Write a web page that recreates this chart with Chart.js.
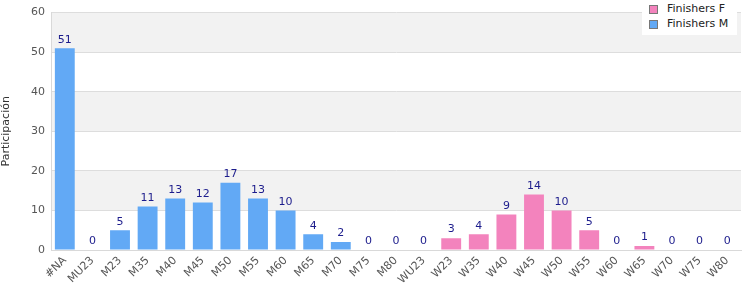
<!DOCTYPE html>
<html>
<head>
<meta charset="utf-8">
<script src="https://cdn.jsdelivr.net/npm/chart.js@4"></script>
<style>
  html, body { margin: 0; padding: 0; background: #fff; }
  #wrap { position: relative; width: 750px; height: 300px; }
  #legend {
    position: absolute; left: 642px; top: 0; width: 95px; height: 35px;
    background: #fff; font: 11px "DejaVu Sans", sans-serif; color: #222;
  }
  #legend div { position: relative; height: 13px; line-height: 13px; padding-left: 25px; margin-top: 2px; }
  #legend span {
    position: absolute; left: 7px; top: 3px; width: 7px; height: 7px; border: 1px solid #777;
  }
</style>
</head>
<body>
<div id="wrap">
  <canvas id="chart" width="750" height="300"></canvas>
  <div id="legend">
    <div><span style="background:#f383bd"></span>Finishers F</div>
    <div><span style="background:#62a9f5"></span>Finishers M</div>
  </div>
</div>
<script>
const categories = ["#NA", "MU23", "M23", "M35", "M40", "M45", "M50", "M55", "M60", "M65", "M70", "M75", "M80",
  "WU23", "W23", "W35", "W40", "W45", "W50", "W55", "W60", "W65", "W70", "W75", "W80"];
const finishersM = [51, 0, 5, 11, 13, 12, 17, 13, 10, 4, 2, 0, 0,
  0, null, null, null, null, null, null, null, null, null, null, null];
const finishersF = [null, null, null, null, null, null, null, null, null, null, null, null, null,
  null, 3, 4, 9, 14, 10, 5, 0, 1, 0, 0, 0];
const yTicks = [0, 10, 20, 30, 40, 50, 60];

document.addEventListener("DOMContentLoaded", () => {
  // bandas alternas
  const bandPlugin = {
    id: "bands",
    beforeDraw(chart) {
      const { ctx, chartArea, scales } = chart;
      ctx.save();
      ctx.fillStyle = "#f2f2f2";
      for (let i = 1; i + 1 < yTicks.length; i += 2) {
        const top = scales.y.getPixelForValue(yTicks[i + 1]);
        const bottom = scales.y.getPixelForValue(yTicks[i]);
        ctx.fillRect(chartArea.left, top, chartArea.width, bottom - top);
      }
      ctx.restore();
    },
  };

  // etiquetas de valor
  const valuePlugin = {
    id: "values",
    afterDatasetsDraw(chart) {
      const { ctx } = chart;
      ctx.save();
      ctx.font = "11px 'DejaVu Sans', sans-serif";
      ctx.fillStyle = "#1c1c8c";
      ctx.textAlign = "center";
      ctx.textBaseline = "bottom";
      chart.data.datasets.forEach((ds, di) => {
        const meta = chart.getDatasetMeta(di);
        ds.data.forEach((v, i) => {
          if (v === null) return;
          const bar = meta.data[i];
          ctx.fillText(String(v), bar.x, bar.y - 3);
        });
      });
      ctx.restore();
    },
  };

  const ctx = document.getElementById("chart").getContext("2d");
  new Chart(ctx, {
    type: "bar",
    data: {
      labels: categories,
      datasets: [
        { label: "Finishers M", data: finishersM, backgroundColor: "#62a9f5", barPercentage: 0.72, categoryPercentage: 1 },
        { label: "Finishers F", data: finishersF, backgroundColor: "#f383bd", barPercentage: 0.72, categoryPercentage: 1 },
      ],
    },
    options: {
      responsive: false,
      animation: false,
      layout: { padding: { top: 9, right: 9, left: 0, bottom: 0 } },
      plugins: { legend: { display: false }, tooltip: { enabled: false } },
      scales: {
        x: {
          stacked: true,
          grid: { display: false, drawTicks: false },
          border: { color: "#d9d9d9" },
          ticks: {
            color: "#555", font: { family: "DejaVu Sans", size: 11 },
            minRotation: 45, maxRotation: 45, autoSkip: false, padding: 4,
          },
          afterFit(scale) { scale.height = 50; },
        },
        y: {
          stacked: true,
          min: 0, max: 60,
          ticks: { stepSize: 10, color: "#555", font: { family: "DejaVu Sans", size: 11 }, padding: 6 },
          grid: { color: "#dddddd", drawTicks: false },
          border: { color: "#d9d9d9" },
          title: { display: true, text: "Participación", color: "#333", font: { family: "DejaVu Sans", size: 11 }, padding: 0 },
          afterFit(scale) { scale.width = 51; },
        },
      },
    },
    plugins: [bandPlugin, valuePlugin],
  });
});
</script>
</body>
</html>
